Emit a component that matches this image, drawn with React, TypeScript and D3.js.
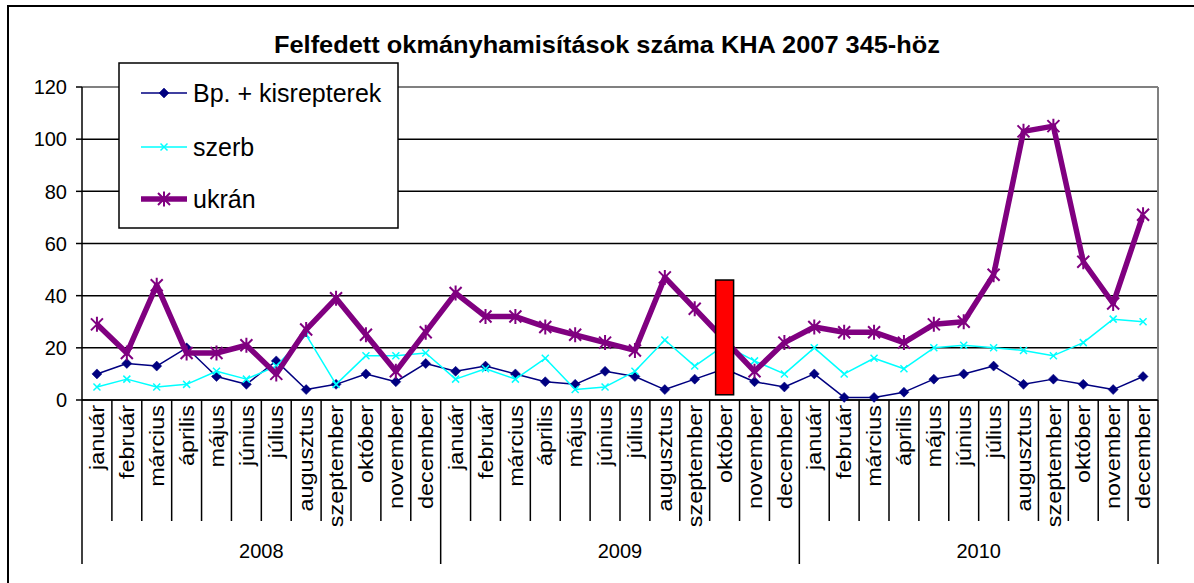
import React from 'react'
import * as d3 from 'd3'

const months = ['január', 'február', 'március', 'április', 'május', 'június', 'július', 'augusztus', 'szeptember', 'október', 'november', 'december']
const years = ['2008', '2009', '2010']

const bp = [10, 14, 13, 20, 9, 6, 15, 4, 6, 10, 7, 14, 11, 13, 10, 7, 6, 11, 9, 4, 8, 12, 7, 5, 10, 1, 1, 3, 8, 10, 13, 6, 8, 6, 4, 9]
const szerb = [5, 8, 5, 6, 11, 8, 13, 25, 6, 17, 17, 18, 8, 12, 8, 16, 4, 5, 11, 23, 13, 21, 15, 10, 20, 10, 16, 12, 20, 21, 20, 19, 17, 22, 31, 30]
const ukran = [29, 18, 44, 18, 18, 21, 10, 27, 39, 25, 11, 26, 41, 32, 32, 28, 25, 22, 19, 47, 35, 23, 11, 22, 28, 26, 26, 22, 29, 30, 48, 103, 105, 53, 37, 71]

const yTicks = [0, 20, 40, 60, 80, 100, 120]

// red marker bar over 2009 október
const markIndex = 21
const markRange = [2, 46]

const FONT = '"Liberation Sans", Arial, sans-serif'

const W = 1194
const H = 583
const plot = { left: 82, right: 1158, top: 87, bottom: 400 }

const categories = years.flatMap(y => months.map(m => `${y} ${m}`))

function diamond(r: number) {
  return `M0,${-r}L${r},0L0,${r}L${-r},0Z`
}
function cross(r: number) {
  return `M${-r},${-r}L${r},${r}M${-r},${r}L${r},${-r}`
}
function star(r: number) {
  return `M${-r},${-r}L${r},${r}M${-r},${r}L${r},${-r}M0,${-r * 1.25}L0,${r * 1.25}`
}

const series = [
  { name: 'Bp. + kisrepterek', values: bp, color: '#000080', width: 1.5, marker: 'diamond' },
  { name: 'szerb', values: szerb, color: '#00FFFF', width: 1.5, marker: 'cross' },
  { name: 'ukrán', values: ukran, color: '#800080', width: 5.5, marker: 'star' },
]

function Marker({ type, color }: { type: string; color: string }) {
  if (type === 'diamond') return <path d={diamond(5)} fill={color} stroke={color} strokeWidth={0.5} />
  if (type === 'cross') return <path d={cross(3.5)} fill="none" stroke={color} strokeWidth={1.5} />
  return <path d={star(6)} fill="none" stroke={color} strokeWidth={2} />
}

export default function App() {
  const x = d3.scaleBand().domain(categories).range([plot.left, plot.right]).padding(0)
  const y = d3.scaleLinear().domain([0, 120]).range([plot.bottom, plot.top])
  const bw = x.bandwidth()
  const cx = (i: number) => (x(categories[i]) as number) + bw / 2

  const line = d3.line<number>().x((d, i) => cx(i)).y(d => y(d))

  const monthTickEnd = 521
  const yearTickEnd = 564

  return (
    <div style={{ position: 'absolute', left: 0, top: 0 }}>
      <svg width={W} height={H} style={{ display: 'block', background: '#fff' }} fontFamily={FONT}>
        {/* outer chart frame, runs past right/bottom edge */}
        <rect x={8} y={6} width={1250} height={650} fill="#fff" stroke="#000" strokeWidth={2} />

        <text x={607} y={53} textAnchor="middle" fontSize={24} fontWeight="bold" textLength={666} lengthAdjust="spacingAndGlyphs">
          Felfedett okmányhamisítások száma KHA 2007 345-höz
        </text>

        {/* gridlines */}
        {yTicks.map(t => (
          <line key={t} x1={plot.left} x2={plot.right} y1={y(t)} y2={y(t)}
            stroke={t === 120 ? '#808080' : '#000'} strokeWidth={t === 120 ? 2 : 1.5} />
        ))}
        <line x1={plot.right} x2={plot.right} y1={plot.top} y2={plot.bottom} stroke="#808080" strokeWidth={2} />

        {/* y axis */}
        <line x1={plot.left} x2={plot.left} y1={plot.top} y2={yearTickEnd} stroke="#000" strokeWidth={1.5} />
        {yTicks.map(t => (
          <g key={t}>
            <line x1={plot.left - 6} x2={plot.left} y1={y(t)} y2={y(t)} stroke="#000" strokeWidth={1.5} />
            <text x={67} y={y(t)} dy="0.36em" textAnchor="end" fontSize={20}>{t}</text>
          </g>
        ))}

        {/* x axis */}
        <line x1={plot.left} x2={plot.right} y1={plot.bottom} y2={plot.bottom} stroke="#000" strokeWidth={1.5} />
        {categories.map((c, i) => {
          const bx = (x(c) as number) + bw
          const yearEdge = (i + 1) % 12 === 0
          return (
            <line key={c} x1={bx} x2={bx} y1={plot.bottom} y2={yearEdge ? yearTickEnd : monthTickEnd}
              stroke="#000" strokeWidth={1.5} />
          )
        })}
        {categories.map((c, i) => (
          <text key={c} transform={`translate(${cx(i)},405) rotate(-90) scale(1.17,1)`} dy="0.36em" textAnchor="end" fontSize={20}>
            {months[i % 12]}
          </text>
        ))}
        {years.map((yr, j) => {
          const x0 = x(categories[j * 12]) as number
          const x1 = (x(categories[j * 12 + 11]) as number) + bw
          return (
            <text key={yr} x={(x0 + x1) / 2} y={551} dy="0.36em" textAnchor="middle" fontSize={20}>{yr}</text>
          )
        })}

        {/* series */}
        {series.map(s => (
          <g key={s.name}>
            <path d={line(s.values) as string} fill="none" stroke={s.color} strokeWidth={s.width} strokeLinejoin="round" />
            {s.values.map((v, i) => (
              <g key={i} transform={`translate(${cx(i)},${y(v)})`}>
                <Marker type={s.marker} color={s.color} />
              </g>
            ))}
          </g>
        ))}

        {/* red marker bar */}
        <rect x={cx(markIndex) - 9} y={y(markRange[1])} width={18} height={y(markRange[0]) - y(markRange[1])}
          fill="#FF0000" stroke="#000" strokeWidth={1.5} />

        {/* legend */}
        <rect x={119} y={63} width={279} height={165} fill="#fff" stroke="#000" strokeWidth={1.5} />
        {series.map((s, i) => {
          const ly = [93, 147, 199][i]
          return (
            <g key={s.name}>
              <line x1={141} x2={187} y1={ly} y2={ly} stroke={s.color} strokeWidth={s.width} />
              <g transform={`translate(164,${ly})`}>
                <Marker type={s.marker} color={s.color} />
              </g>
              <text x={193} y={ly} dy="0.36em" fontSize={25}>{s.name}</text>
            </g>
          )
        })}
      </svg>
    </div>
  )
}
